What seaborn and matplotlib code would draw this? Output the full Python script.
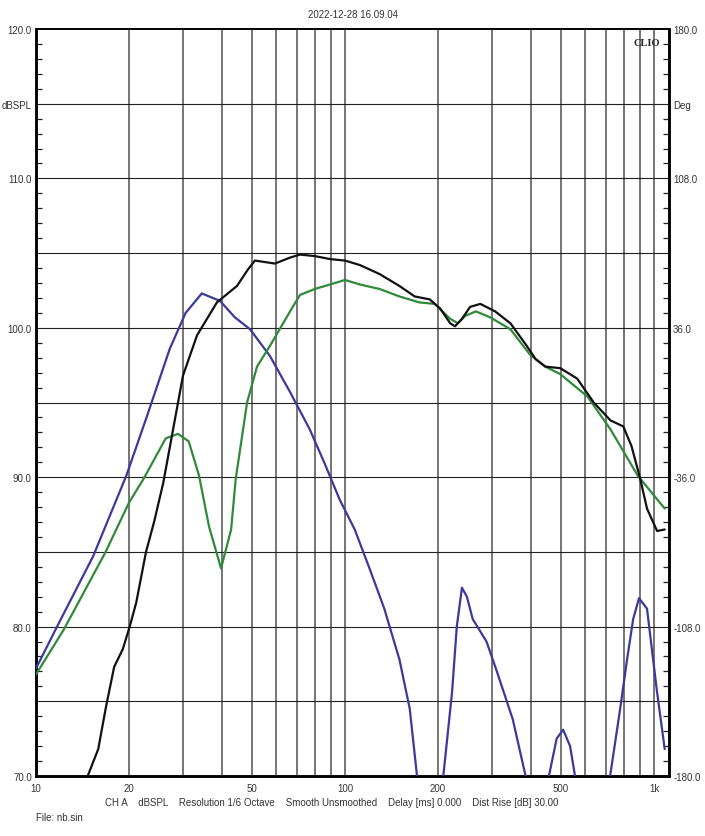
import matplotlib
matplotlib.use("Agg")
import matplotlib.pyplot as plt
from matplotlib.ticker import FixedLocator, MultipleLocator, NullFormatter
import numpy as np
import pandas as pd
import seaborn as sns

# --- curves (Hz, dBSPL) ---
black_freq = [14.7, 15.9, 16.8, 17.9, 19.1, 20.1, 21.1, 22.7, 24.1, 25.8, 27.1, 29.9, 33.2,
              38.5, 44.7, 48.5, 51.1, 55.1, 59.3, 66.4, 71.5, 79.9, 89.4, 100, 111.7, 129.3,
              150, 168, 188, 203, 219, 227, 239, 254, 274, 306, 343, 384, 414, 445, 497, 564,
              638, 723, 795, 845, 902, 949, 1023, 1083]
black_db = [70.0, 71.8, 74.5, 77.3, 78.5, 80.0, 81.6, 85.0, 87.0, 89.6, 92.0, 96.8, 99.5,
            101.7, 102.8, 103.9, 104.5, 104.4, 104.3, 104.7, 104.9, 104.8, 104.6, 104.5, 104.2, 103.6,
            102.8, 102.1, 101.9, 101.3, 100.3, 100.1, 100.6, 101.4, 101.6, 101.1, 100.3, 98.9, 97.9, 97.4, 97.3, 96.6,
            95.0, 93.8, 93.4, 92.1, 89.9, 87.9, 86.4, 86.5]

green_freq = [10, 12.3, 16.8, 20, 22.3, 26.3, 28.8, 31.2, 33.7, 36.3, 39.7, 42.8, 44.3, 48.2,
              51.9, 57.2, 66.4, 71.5, 79.9, 89.4, 100, 111.7, 129.3, 150, 174, 195, 219, 232,
              245, 265, 295, 343, 397, 445, 497, 609, 723, 886, 1083]
green_db = [76.8, 79.8, 85.0, 88.3, 89.9, 92.6, 92.9, 92.4, 90.1, 86.7, 83.9, 86.5, 89.9, 95.0,
            97.4, 98.8, 101.1, 102.2, 102.6, 102.9, 103.2, 102.9, 102.6, 102.1, 101.7, 101.6, 100.6, 100.3,
            100.8, 101.1, 100.7, 99.9, 98.2, 97.4, 96.9, 95.4, 93.2, 90.1, 87.9]

# blue trace falls below the 70 dB floor, so it is kept as separate segments
blue_freq = [10, 11.9, 15.3, 19.6, 22.7, 27.1, 30.5, 34.4, 39.4, 44.0, 49.3, 57.2, 66.4, 76.9,
             86.0, 96.1, 107.5, 120, 134, 150, 162, 171,
             208, 222, 230, 239, 248, 259, 287, 310, 349, 384,
             457, 484, 508, 535, 555,
             721, 777, 818, 856, 894, 949, 1023, 1083]
blue_db = [77.2, 80.3, 84.7, 90.1, 93.9, 98.6, 101.0, 102.3, 101.8, 100.7, 99.9, 98.1, 95.7, 93.2,
           90.9, 88.5, 86.5, 83.9, 81.2, 77.8, 74.5, 70.0,
           70.0, 75.6, 80.0, 82.6, 82.0, 80.5, 79.0, 77.0, 73.8, 70.0,
           70.0, 72.5, 73.1, 72.0, 70.0,
           70.0, 74.5, 77.8, 80.5, 81.9, 81.2, 75.6, 71.8]
blue_seg = [0] * 22 + [1] * 10 + [2] * 5 + [3] * 8

x_ticks = [10, 20, 30, 40, 50, 60, 70, 80, 90, 100, 200, 300, 400, 500, 600, 700, 800, 900, 1000]
x_labels = {10: "10", 20: "20", 50: "50", 100: "100", 200: "200", 500: "500", 1000: "1k"}
y_ticks = [70, 75, 80, 85, 90, 95, 100, 105, 110, 115, 120]
left_labels = ["70.0", "", "80.0", "", "90.0", "", "100.0", "", "110.0", "dBSPL", "120.0"]
right_labels = ["-180.0", "", "-108.0", "", "-36.0", "", "36.0", "", "108.0", "Deg", "180.0"]

black_df = pd.DataFrame({"freq": black_freq, "db": black_db})
green_df = pd.DataFrame({"freq": green_freq, "db": green_db})
blue_df = pd.DataFrame({"freq": blue_freq, "db": blue_db, "seg": blue_seg})

sns.set_style("white")
plt.rcParams["font.family"] = ["Liberation Sans", "DejaVu Sans"]

fig = plt.figure(figsize=(7.05, 8.37), dpi=100)
ax = fig.add_axes([36 / 705, 1 - 777 / 837, (669 - 36) / 705, (777 - 30) / 837])

ax.set_xscale("log")
ax.set_xlim(10, 1118)
ax.set_ylim(70, 120)

# grid
for f in x_ticks[1:]:
    ax.axvline(f, color="#6a6a6a", lw=1.3, zorder=1)
for v in y_ticks[1:-1]:
    ax.axhline(v, color="#222222", lw=0.8, zorder=1)

sns.lineplot(data=blue_df, x="freq", y="db", units="seg", estimator=None, sort=False,
             color="#3a3a9c", lw=1.6, ax=ax, zorder=3)
sns.lineplot(data=green_df, x="freq", y="db", estimator=None, sort=False,
             color="#2f8a3a", lw=1.6, ax=ax, zorder=4)
sns.lineplot(data=black_df, x="freq", y="db", estimator=None, sort=False,
             color="#111111", lw=1.6, ax=ax, zorder=5)

ax.set_xlabel("")
ax.set_ylabel("")

ax.xaxis.set_major_locator(FixedLocator(x_ticks))
ax.set_xticklabels([x_labels.get(t, "") for t in x_ticks])
ax.xaxis.set_minor_formatter(NullFormatter())
ax.tick_params(axis="x", which="both", length=0, labelsize=7, colors="#333333", pad=5)

ax.set_yticks(y_ticks)
ax.set_yticklabels(left_labels)
ax.yaxis.set_minor_locator(MultipleLocator(1))
ax.tick_params(axis="y", which="major", length=0, labelsize=7, colors="#333333", pad=3)
ax.tick_params(axis="y", which="minor", direction="in", length=4, width=0.9, color="#222222")

ax2 = ax.twinx()
ax2.set_ylim(70, 120)
ax2.set_yticks(y_ticks)
ax2.set_yticklabels(right_labels)
ax2.yaxis.set_minor_locator(MultipleLocator(1))
ax2.tick_params(axis="y", which="major", length=0, labelsize=7, colors="#333333", pad=3)
ax2.tick_params(axis="y", which="minor", direction="in", length=4, width=0.9, color="#222222")

for a in (ax, ax2):
    for s in a.spines.values():
        s.set_color("black")
        s.set_linewidth(1.8)
    a.spines["top"].set_linewidth(1.2)
ax.set_zorder(ax2.get_zorder() + 1)
ax.patch.set_visible(False)

ax.text(0.985, 0.988, "CLIO", transform=ax.transAxes, ha="right", va="top",
        fontsize=7.5, fontweight="bold", family="Liberation Serif", zorder=6)

fig.text(0.5, 1 - 15 / 837, "2022-12-28 16.09.04", ha="center", va="center",
         fontsize=7, color="#333333")
fig.text(332 / 705, 1 - 803 / 837,
         "CH A    dBSPL    Resolution 1/6 Octave    Smooth Unsmoothed    Delay [ms] 0.000    Dist Rise [dB] 30.00",
         ha="center", va="center", fontsize=7, color="#333333")
fig.text(36 / 705, 1 - 818 / 837, "File: nb.sin", ha="left", va="center",
         fontsize=7, color="#333333")

fig.savefig("out.png", dpi=100, facecolor="white")
